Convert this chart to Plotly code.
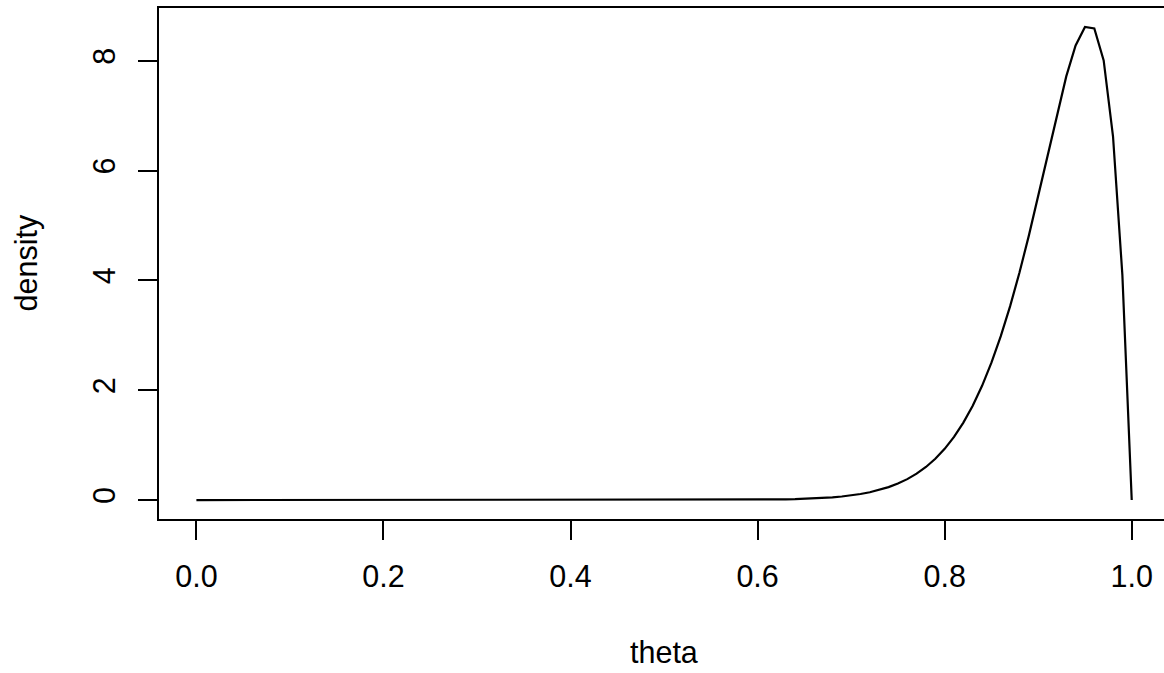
import plotly.graph_objects as go

theta = [0.00, 0.01, 0.02, 0.03, 0.04, 0.05, 0.06, 0.07, 0.08, 0.09,
         0.10, 0.11, 0.12, 0.13, 0.14, 0.15, 0.16, 0.17, 0.18, 0.19,
         0.20, 0.21, 0.22, 0.23, 0.24, 0.25, 0.26, 0.27, 0.28, 0.29,
         0.30, 0.31, 0.32, 0.33, 0.34, 0.35, 0.36, 0.37, 0.38, 0.39,
         0.40, 0.41, 0.42, 0.43, 0.44, 0.45, 0.46, 0.47, 0.48, 0.49,
         0.50, 0.51, 0.52, 0.53, 0.54, 0.55, 0.56, 0.57, 0.58, 0.59,
         0.60, 0.61, 0.62, 0.63, 0.64, 0.65, 0.66, 0.67, 0.68, 0.69,
         0.70, 0.71, 0.72, 0.73, 0.74, 0.75, 0.76, 0.77, 0.78, 0.79,
         0.80, 0.81, 0.82, 0.83, 0.84, 0.85, 0.86, 0.87, 0.88, 0.89,
         0.90, 0.91, 0.92, 0.93, 0.94, 0.95, 0.96, 0.97, 0.98, 0.99,
         1.00]

density = [0.0, 0.0, 0.0, 0.0, 0.0, 0.0, 0.0, 0.0, 0.0, 0.0,
           0.0, 0.0, 0.0, 0.0, 0.0, 0.0, 0.0, 0.0, 0.0, 0.0,
           0.0, 0.0, 0.0, 0.0, 0.0, 0.0, 0.0, 0.0, 0.0, 0.0,
           0.0, 0.0, 0.0, 0.0, 0.0, 0.0, 0.0, 0.0, 0.0, 0.0,
           0.0, 0.0, 0.0, 0.0, 0.0, 0.0, 0.0, 0.0, 0.0, 0.0001,
           0.0001, 0.0002, 0.0003, 0.0004, 0.0006, 0.0008, 0.0011, 0.0016, 0.0023, 0.0032,
           0.0044, 0.0061, 0.0084, 0.0114, 0.0155, 0.0209, 0.0279, 0.0372, 0.0492, 0.0648,
           0.0848, 0.1104, 0.1429, 0.184, 0.2358, 0.3006, 0.3812, 0.4808, 0.603, 0.7521,
           0.9333, 1.151, 1.411, 1.7196, 2.0815, 2.5017, 2.9845, 3.532, 4.145, 4.816,
           5.537, 6.284, 7.028, 7.716, 8.279, 8.616, 8.589, 8.007, 6.621, 4.097,
           0.0]

x_ticks = [0.0, 0.2, 0.4, 0.6, 0.8, 1.0]
x_tick_labels = ["0.0", "0.2", "0.4", "0.6", "0.8", "1.0"]
y_ticks = [0, 2, 4, 6, 8]
y_tick_labels = ["0", "2", "4", "6", "8"]

FONT = "Liberation Sans, Arial, Helvetica, sans-serif"
FS = 30.5

fig = go.Figure()
fig.add_trace(go.Scatter(x=theta, y=density, mode="lines",
                         line=dict(color="black", width=2.2),
                         showlegend=False, hoverinfo="skip"))

fig.update_layout(
    width=1164, height=673,
    margin=dict(l=159, r=0, t=8, b=154, pad=0),
    paper_bgcolor="white", plot_bgcolor="white",
    font=dict(family=FONT, size=FS, color="black"),
    xaxis=dict(range=[-0.04, 1.0345], tickvals=x_ticks, ticktext=x_tick_labels,
               ticks="outside", ticklen=19, tickwidth=2, tickcolor="black",
               showline=True, linecolor="black", linewidth=2, mirror=True,
               showgrid=False, zeroline=False, ticklabelstandoff=10,
               tickfont=dict(family=FONT, size=FS, color="black")),
    yaxis=dict(range=[-0.3447, 8.962], tickvals=y_ticks, ticktext=y_tick_labels,
               ticks="outside", ticklen=19, tickwidth=2, tickcolor="black",
               showline=True, linecolor="black", linewidth=2, mirror=False,
               showgrid=False, zeroline=False, tickangle=-90, ticklabelstandoff=11,
               tickfont=dict(family=FONT, size=FS, color="black")),
    annotations=[
        dict(text="theta", x=0.5, xref="x", y=0, yref="paper", yshift=-133,
             showarrow=False, font=dict(family=FONT, size=FS, color="black"),
             xanchor="center", yanchor="middle"),
        dict(text="density", x=-0.04, xref="x", xshift=-133, y=0.5, yref="paper",
             showarrow=False, textangle=-90, font=dict(family=FONT, size=FS, color="black"),
             xanchor="center", yanchor="middle"),
    ],
)
fig.write_html("out.html", config={"displayModeBar": False},
               post_script="document.body.style.margin='0';document.body.style.overflow='hidden';")
